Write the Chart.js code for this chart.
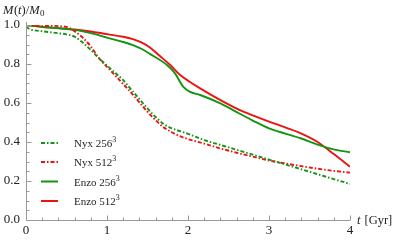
<!DOCTYPE html>
<html>
<head>
<meta charset="utf-8">
<script src="https://cdn.jsdelivr.net/npm/chart.js@4"></script>
<style>
html,body{margin:0;padding:0;background:#fff;}
#wrap{width:399px;height:240px;position:relative;}
</style>
</head>
<body>
<div id="wrap"><canvas id="c" width="399" height="240"></canvas></div>
<script>
// ---- data (t in Gyr, M(t)/M0) ----
const tNyx256 = [0,0.05,0.1,0.2,0.3,0.4,0.5,0.6,0.7,0.8,0.9,1.0,1.1,1.2,1.3,1.4,1.5,1.6,1.7,1.8,1.9,2.0,2.2,2.4,2.6,2.8,3.0,3.2,3.4,3.6,3.8,4.0];
const mNyx256 = [0.99,0.978,0.973,0.968,0.963,0.958,0.952,0.94,0.91,0.872,0.83,0.792,0.755,0.717,0.668,0.62,0.572,0.528,0.492,0.47,0.456,0.442,0.41,0.385,0.36,0.335,0.31,0.285,0.26,0.235,0.21,0.185];

const tNyx512 = [0,0.1,0.2,0.3,0.4,0.5,0.55,0.6,0.7,0.8,0.9,1.0,1.1,1.2,1.3,1.4,1.5,1.6,1.7,1.8,1.9,2.0,2.2,2.4,2.6,2.8,3.0,3.2,3.4,3.6,3.8,4.0];
const mNyx512 = [1.0,0.995,0.994,0.996,0.994,0.99,0.982,0.968,0.935,0.89,0.83,0.785,0.742,0.697,0.652,0.603,0.555,0.512,0.475,0.45,0.43,0.415,0.392,0.367,0.345,0.325,0.305,0.29,0.276,0.263,0.252,0.243];

const tEnzo256 = [0,0.2,0.4,0.6,0.8,1.0,1.2,1.32,1.43,1.53,1.74,1.84,1.94,2.02,2.15,2.4,2.64,2.8,3.0,3.2,3.4,3.6,3.8,4.0];
const mEnzo256 = [1.0,0.99,0.983,0.975,0.958,0.935,0.913,0.897,0.877,0.852,0.795,0.752,0.684,0.658,0.641,0.598,0.545,0.51,0.47,0.443,0.418,0.387,0.362,0.347];

const tEnzo512 = [0,0.2,0.4,0.6,0.8,1.0,1.2,1.32,1.43,1.53,1.65,1.78,1.9,2.02,2.15,2.4,2.64,2.8,3.0,3.2,3.4,3.6,3.8,4.0];
const mEnzo512 = [1.0,0.99,0.984,0.977,0.967,0.953,0.94,0.928,0.91,0.885,0.842,0.795,0.745,0.709,0.675,0.615,0.564,0.537,0.505,0.475,0.443,0.4,0.338,0.273];

const seriesNames = ['Nyx 256³','Nyx 512³','Enzo 256³','Enzo 512³'];
const xTicks = [0,1,2,3,4];
const yTicks = [0.0,0.2,0.4,0.6,0.8,1.0];

const GREEN = '#139413';
const RED = '#ee1111';
const DASHDOT = [4,2,1.5,2];

function pts(t,m){ return t.map((v,i)=>({x:v,y:m[i]})); }

const SERIF = '"Liberation Serif","DejaVu Serif",serif';

const axesPlugin = {
  id:'axesPlugin',
  afterDraw(chart){
    const ctx = chart.ctx;
    const xs = chart.scales.x, ys = chart.scales.y;
    ctx.save();
    ctx.strokeStyle = '#999';
    ctx.lineWidth = 1;
    const x0 = Math.round(xs.getPixelForValue(0))+0.5;
    const y0 = Math.round(ys.getPixelForValue(0))+0.5;
    ctx.beginPath();
    ctx.moveTo(x0, ys.getPixelForValue(1.0)-3);
    ctx.lineTo(x0, y0);
    ctx.lineTo(xs.getPixelForValue(4), y0);
    ctx.stroke();
    ctx.beginPath();
    for(let i=0;i<=20;i++){
      const v=i*0.2; const px=Math.round(xs.getPixelForValue(v))+0.5;
      const len = (i%5===0)?5:3;
      ctx.moveTo(px,y0); ctx.lineTo(px,y0-len);
    }
    for(let i=0;i<=20;i++){
      const v=i*0.05; const py=Math.round(ys.getPixelForValue(v))+0.5;
      const len = (i%4===0)?5:3;
      ctx.moveTo(x0,py); ctx.lineTo(x0+len,py);
    }
    ctx.stroke();

    ctx.fillStyle = '#222';
    ctx.textBaseline = 'alphabetic';
    let x = 3, b = 14;
    const parts = [['M','italic'],['(',''],['t','italic'],[')/',''],['M','italic']];
    for(const [s,st] of parts){
      ctx.font = (st?st+' ':'')+'12.5px '+SERIF;
      ctx.fillText(s,x,b); x += ctx.measureText(s).width + (s==='M'?0.5:0);
    }
    ctx.font = '9px '+SERIF;
    ctx.fillText('0',x,b+2);

    let tx = 357, tb = 224;
    ctx.font = 'italic 12.5px '+SERIF;
    ctx.fillText('t',tx,tb); tx += ctx.measureText('t').width + 4;
    ctx.font = '12.5px '+SERIF;
    ctx.fillText('[Gyr]',tx,tb);

    const rows = [143,162,181.5,201];
    chart.data.datasets.forEach((ds,i)=>{
      const y = rows[i];
      ctx.beginPath();
      ctx.strokeStyle = ds.borderColor;
      ctx.lineWidth = 2;
      ctx.setLineDash(ds.borderDash||[]);
      ctx.moveTo(41,y); ctx.lineTo(58,y); ctx.stroke();
      ctx.setLineDash([]);
      ctx.fillStyle = '#222';
      const name = seriesNames[i];
      const base = name.slice(0,-1);
      ctx.font = '11px '+SERIF;
      ctx.fillText(base,74,y+4);
      const w = ctx.measureText(base).width;
      ctx.font = '8px '+SERIF;
      ctx.fillText('3',74+w,y-1);
    });
    ctx.restore();
  }
};

new Chart(document.getElementById('c'),{
  type:'line',
  data:{
    datasets:[
      {label:seriesNames[0],data:pts(tNyx256,mNyx256),borderColor:GREEN,borderDash:DASHDOT},
      {label:seriesNames[1],data:pts(tNyx512,mNyx512),borderColor:RED,borderDash:DASHDOT},
      {label:seriesNames[2],data:pts(tEnzo256,mEnzo256),borderColor:GREEN},
      {label:seriesNames[3],data:pts(tEnzo512,mEnzo512),borderColor:RED}
    ]
  },
  options:{
    responsive:false,
    animation:false,
    devicePixelRatio:1,
    layout:{padding:{top:25,right:49,left:0,bottom:0}},
    elements:{line:{borderWidth:1.9,cubicInterpolationMode:'monotone',fill:false},point:{radius:0}},
    plugins:{legend:{display:false},tooltip:{enabled:false}},
    scales:{
      x:{type:'linear',min:0,max:4,
        afterBuildTicks(s){ s.ticks = xTicks.map(v=>({value:v})); },
        afterFit(s){ s.height = 20; },
        grid:{display:false,drawTicks:false},border:{display:false},
        ticks:{padding:3,color:'#222',font:{family:SERIF,size:13},maxRotation:0,callback:v=>String(v)}
      },
      y:{type:'linear',min:0,max:1.0,
        afterBuildTicks(s){ s.ticks = yTicks.map(v=>({value:v})); },
        afterFit(s){ s.width = 26; },
        grid:{display:false,drawTicks:false},border:{display:false},
        ticks:{padding:6,color:'#222',font:{family:SERIF,size:13},callback:v=>Number(v).toFixed(1)}
      }
    }
  },
  plugins:[axesPlugin]
});
</script>
</body>
</html>
